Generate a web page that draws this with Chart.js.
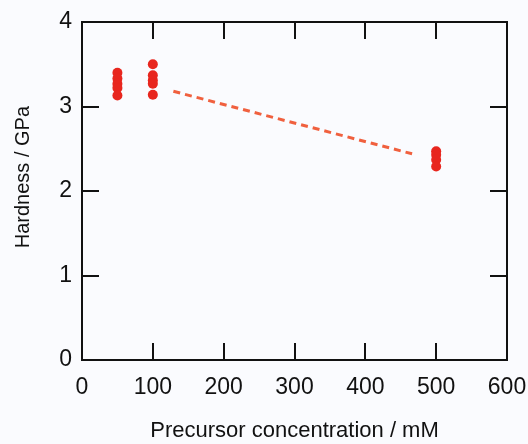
<!DOCTYPE html>
<html>
<head>
<meta charset="utf-8">
<script src="https://cdn.jsdelivr.net/npm/chart.js@4/dist/chart.umd.min.js"></script>
<style>
html,body{margin:0;padding:0;background:#fafbfe;}
#wrap{width:528px;height:444px;}
</style>
</head>
<body>
<div id="wrap"><canvas id="c" width="528" height="444"></canvas></div>
<script>
const concentrations = [50, 50, 50, 50, 50, 100, 100, 100, 100, 100, 500, 500, 500, 500];
const hardness = [3.40, 3.33, 3.27, 3.22, 3.13, 3.50, 3.37, 3.31, 3.27, 3.14, 2.47, 2.43, 2.37, 2.29];
const trendX = [129, 466];
const trendY = [3.18, 2.44];
const xTicks = [0, 100, 200, 300, 400, 500, 600];
const yTicks = [0, 1, 2, 3, 4];
const xTitle = 'Precursor concentration / mM';
const yTitle = '     Hardness / GPa';

const points = concentrations.map((x, i) => ({x: x, y: hardness[i]}));
const trend = trendX.map((x, i) => ({x: x, y: trendY[i]}));

const FONT = "'Liberation Sans', Arial, sans-serif";

const framePlugin = {
  id: 'frame',
  afterDatasetsDraw(chart) {
    const {ctx, chartArea: a, scales: {x, y}} = chart;
    const L = 17;
    ctx.save();
    ctx.strokeStyle = '#111';
    ctx.lineWidth = 2;
    ctx.beginPath();
    xTicks.forEach(v => {
      const px = Math.round(x.getPixelForValue(v));
      if (v !== xTicks[0] && v !== xTicks[xTicks.length - 1]) {
        ctx.moveTo(px, a.bottom); ctx.lineTo(px, a.bottom - L);
        ctx.moveTo(px, a.top); ctx.lineTo(px, a.top + L);
      }
    });
    yTicks.forEach(v => {
      const py = Math.round(y.getPixelForValue(v));
      if (v !== yTicks[0] && v !== yTicks[yTicks.length - 1]) {
        ctx.moveTo(a.left, py); ctx.lineTo(a.left + L, py);
        ctx.moveTo(a.right, py); ctx.lineTo(a.right - L, py);
      }
    });
    ctx.stroke();
    ctx.strokeRect(a.left, a.top, a.right - a.left, a.bottom - a.top);
    ctx.restore();
  }
};

new Chart(document.getElementById('c'), {
  type: 'scatter',
  data: {
    datasets: [
      {
        type: 'line',
        data: trend,
        borderColor: '#f0603e',
        borderWidth: 3,
        borderDash: [7, 5],
        pointRadius: 0,
        fill: false
      },
      {
        data: points,
        backgroundColor: '#e8261e',
        borderColor: '#e8261e',
        pointRadius: 5,
        borderWidth: 0
      }
    ]
  },
  options: {
    responsive: false,
    animation: false,
    plugins: {legend: {display: false}, tooltip: {enabled: false}},
    layout: {padding: {top: 22, right: 21, left: 0, bottom: 0}},
    scales: {
      x: {
        type: 'linear',
        min: 0, max: 600,
        afterBuildTicks: s => { s.ticks = xTicks.map(v => ({value: v})); },
        afterFit: s => { s.height = 84; s.paddingLeft = 0; s.paddingRight = 0; },
        grid: {display: false, drawTicks: false},
        border: {display: false},
        ticks: {color: '#111', font: {family: FONT, size: 23}, padding: 14, maxRotation: 0},
        title: {display: true, text: xTitle, color: '#111', font: {family: FONT, size: 22}, padding: {top: 18, bottom: 0}}
      },
      y: {
        type: 'linear',
        min: 0, max: 4,
        afterBuildTicks: s => { s.ticks = yTicks.map(v => ({value: v})); },
        afterFit: s => { s.width = 82; s.paddingTop = 0; s.paddingBottom = 0; },
        grid: {display: false, drawTicks: false},
        border: {display: false},
        ticks: {color: '#111', font: {family: FONT, size: 23}, padding: 10},
        title: {display: true, text: yTitle, color: '#111', font: {family: FONT, size: 20}, padding: {top: 11, bottom: 0}}
      }
    }
  },
  plugins: [framePlugin]
});
</script>
</body>
</html>
